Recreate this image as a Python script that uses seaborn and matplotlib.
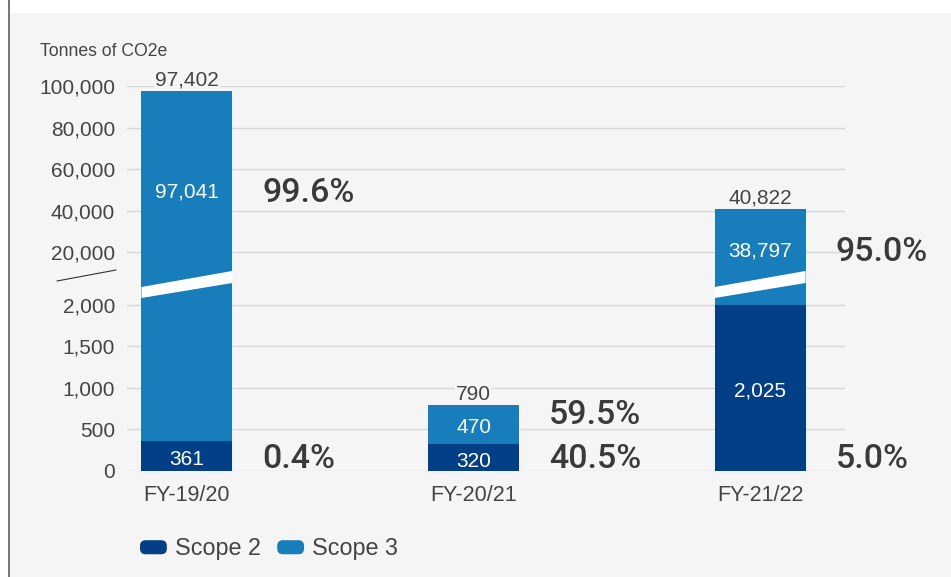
import numpy as np
import pandas as pd
import seaborn as sns
import matplotlib.pyplot as plt
import matplotlib.patches as mpatches
from matplotlib.lines import Line2D
from matplotlib.legend_handler import HandlerPatch

# Data ----
years = ["FY-19/20", "FY-20/21", "FY-21/22"]
scope2 = [361, 320, 2025]
scope3 = [97041, 470, 38797]
yticks = [0, 500, 1000, 1500, 2000, 20000, 40000, 60000, 80000, 100000]
ytick_labels = ["0", "500", "1,000", "1,500", "2,000",
                "20,000", "40,000", "60,000", "80,000", "100,000"]

dark = "#023f86"
light = "#187dbb"
bg = "#f5f5f5"
txt = "#444444"

df = pd.DataFrame({"year": years, "scope2": scope2, "scope3": scope3})
df["total"] = df["scope2"] + df["scope3"]

# broken axis: 0-2,000 linear, a gap, then 20,000-100,000 squeezed 40x
brk_v = [0, 2000, 20000, 100000]
brk_u = [0, 2000, 2638, 4638]


def fwd(v):
    v = np.asarray(v, dtype=float)
    return np.where(v < 0, v,
                    np.where(v > 100000, 4638 + (v - 100000) / 40,
                             np.interp(v, brk_v, brk_u)))


def inv(u):
    u = np.asarray(u, dtype=float)
    return np.where(u < 0, u,
                    np.where(u > 4638, 100000 + (u - 4638) * 40,
                             np.interp(u, brk_u, brk_v)))


class RoundHandler(HandlerPatch):
    def create_artists(self, legend, orig, xdescent, ydescent, width, height, fontsize, trans):
        p = mpatches.FancyBboxPatch((-xdescent, -ydescent), width, height,
                                    boxstyle="round,pad=0,rounding_size=%f" % (height * 0.4),
                                    facecolor=orig.get_facecolor(), edgecolor="none",
                                    transform=trans)
        return [p]


# Plot ----
sns.set_theme(style="white")
plt.rcParams["font.family"] = ["Liberation Sans", "DejaVu Sans"]

W, H = 951, 577
fig = plt.figure(figsize=(W / 100, H / 100), dpi=100, facecolor="white")
fig.add_artist(mpatches.Rectangle((9 / W, 0), 1, 1 - 13 / H, transform=fig.transFigure,
                                  facecolor=bg, edgecolor="none", zorder=0))
fig.add_artist(Line2D([8.5 / W, 8.5 / W], [0, 1], transform=fig.transFigure,
                      color="#6b6b6b", lw=1.3))

ax = fig.add_axes([127 / W, 1 - 471 / H, 718 / W, 385 / H])
ax.set_facecolor("none")
ax.set_yscale("function", functions=(fwd, inv))

bw = 0.317
sns.barplot(data=df, x="year", y="total", color=light, width=bw, saturation=1,
            linewidth=0, edgecolor="none", ax=ax, zorder=2)
sns.barplot(data=df, x="year", y="scope2", color=dark, width=bw, saturation=1,
            linewidth=0, edgecolor="none", ax=ax, zorder=2)

ax.set_ylim(0, 100000)
ax.set_xlim(-0.209, 2.296)
ax.set_yticks(yticks, ytick_labels)
ax.yaxis.grid(True, color="#d8d8d8", lw=1)
ax.set_axisbelow(True)
ax.tick_params(axis="y", length=0, pad=8.6, labelsize=15, labelcolor=txt)
ax.tick_params(axis="x", length=0, pad=10, labelsize=15.5, labelcolor=txt)
ax.set_xlabel("")
ax.set_ylabel("")
sns.despine(left=True, bottom=True)

# slanted white break across tall bars (in scaled units)
for i, tot in enumerate(df["total"]):
    if tot > 2000:
        x0, x1 = i - bw / 2, i + bw / 2
        verts = [(x0, inv(2084)), (x1, inv(2265)), (x1, inv(2410)), (x0, inv(2217))]
        ax.add_patch(mpatches.Polygon(verts, closed=True, facecolor="white",
                                      edgecolor="none", zorder=3))

# labels
pct_font = dict(family=["Roboto", "Liberation Sans"], fontweight="medium",
                fontsize=24.5, color="#3a3a3a")
for i, row in df.iterrows():
    tot, s2, s3 = row["total"], row["scope2"], row["scope3"]
    ax.annotate(f"{tot:,}", xy=(i, tot), xytext=(0, 8), textcoords="offset points",
                ha="center", va="center", fontsize=15, color=txt, zorder=4,
                bbox=dict(facecolor=bg, edgecolor="none", pad=1))
    u2 = fwd(s2) / 2
    ax.annotate(f"{s2:,}", xy=(i, inv(u2)), xytext=(0, -2.5), textcoords="offset points",
                ha="center", va="center", color="white", fontsize=15, zorder=4)
    u3 = (max(fwd(s2), 2217 if tot > 2000 else 0) + fwd(tot)) / 2
    ax.annotate(f"{s3:,}", xy=(i, inv(u3)), xytext=(0, -2), textcoords="offset points",
                ha="center", va="center", color="white", fontsize=15, zorder=4)
    xp = i + bw / 2 + 0.105
    ax.annotate(f"{s2 / tot * 100:.1f}%", xy=(xp, inv(181)), xytext=(0, -2.5),
                textcoords="offset points", ha="left", va="center", **pct_font)
    ax.annotate(f"{s3 / tot * 100:.1f}%", xy=(xp, inv(max(u3, 723))), xytext=(0, -3),
                textcoords="offset points", ha="left", va="center", **pct_font)

fig.text(40 / W, 1 - 52 / H, "Tonnes of CO2e", fontsize=12.7, color=txt, va="center")
fig.add_artist(Line2D([57 / W, 116 / W], [1 - 281 / H, 1 - 270 / H], transform=fig.transFigure,
                      color="#333333", lw=0.8))

handles = [mpatches.Patch(facecolor=c, label=l) for c, l in [(dark, "Scope 2"), (light, "Scope 3")]]
fig.legend(handles=handles, loc="center left", bbox_to_anchor=(140 / W, 1 - 549 / H),
           frameon=False, ncol=2, fontsize=16.8, labelcolor=txt, handlelength=1.15,
           handleheight=0.55, handletextpad=0.35, columnspacing=0.7,
           borderpad=0, borderaxespad=0, handler_map={mpatches.Patch: RoundHandler()})

fig.savefig("out.png", dpi=100, facecolor="white")
